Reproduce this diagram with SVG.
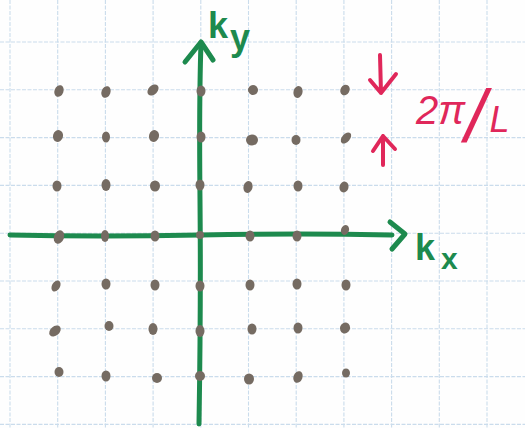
<svg xmlns="http://www.w3.org/2000/svg" width="525" height="428" viewBox="0 0 525 428">
<style>
.grid line{stroke:#cadcec;stroke-width:1.1;stroke-dasharray:4 1.5}
.dot{fill:#756b62}
.ax{stroke:#1d8a4e;stroke-width:5;fill:none;stroke-linecap:round;stroke-linejoin:round}
.red{stroke:#e0275a;stroke-width:4;fill:none;stroke-linecap:round;stroke-linejoin:round}
.gl{font-family:"Liberation Sans",Arial,sans-serif;font-weight:bold;fill:#1d8a4e}
.rl{font-family:"Liberation Sans",Arial,sans-serif;font-style:italic;fill:#e0275a}
</style>
<rect width="525" height="428" fill="#fefefe"/>
<g id="grid" class="grid">
<line x1="10" y1="0" x2="10" y2="428"/>
<line x1="57.7" y1="0" x2="57.7" y2="428"/>
<line x1="105.4" y1="0" x2="105.4" y2="428"/>
<line x1="153.1" y1="0" x2="153.1" y2="428"/>
<line x1="200.8" y1="0" x2="200.8" y2="428"/>
<line x1="248.5" y1="0" x2="248.5" y2="428"/>
<line x1="296.2" y1="0" x2="296.2" y2="428"/>
<line x1="343.9" y1="0" x2="343.9" y2="428"/>
<line x1="391.6" y1="0" x2="391.6" y2="428"/>
<line x1="439.3" y1="0" x2="439.3" y2="428"/>
<line x1="487" y1="0" x2="487" y2="428"/>
<line x1="0" y1="42" x2="525" y2="42"/>
<line x1="0" y1="89.8" x2="525" y2="89.8"/>
<line x1="0" y1="137.6" x2="525" y2="137.6"/>
<line x1="0" y1="185.4" x2="525" y2="185.4"/>
<line x1="0" y1="233.2" x2="525" y2="233.2"/>
<line x1="0" y1="281" x2="525" y2="281"/>
<line x1="0" y1="328.8" x2="525" y2="328.8"/>
<line x1="0" y1="376.6" x2="525" y2="376.6"/>
<line x1="0" y1="424.4" x2="525" y2="424.4"/>
</g>
<g id="connectors">
<path class="ax" d="M10,235 Q100,237 200,235 T392,235"/>
<path class="ax" d="M390,222 L405,234 L392,249"/>
<path class="ax" d="M199,424 Q201,300 200,200 T201,43"/>
<path class="ax" d="M185,62 L201,42 L213,60"/>
</g>
<g id="lattice" class="dot">
<ellipse cx="59" cy="91" rx="4.5" ry="6" transform="rotate(20 59 91)"/>
<ellipse cx="106" cy="92" rx="4.5" ry="6" transform="rotate(20 106 92)"/>
<ellipse cx="153" cy="90" rx="4.5" ry="6.5" transform="rotate(45 153 90)"/>
<ellipse cx="201" cy="91" rx="4.5" ry="5.5"/>
<ellipse cx="253" cy="90" rx="5" ry="5" transform="rotate(20 253 90)"/>
<ellipse cx="298" cy="92" rx="4.5" ry="6" transform="rotate(15 298 92)"/>
<ellipse cx="345" cy="90" rx="4.5" ry="5.5" transform="rotate(30 345 90)"/>
<ellipse cx="58" cy="136" rx="5" ry="6" transform="rotate(15 58 136)"/>
<ellipse cx="106" cy="137" rx="4" ry="5.5"/>
<ellipse cx="154" cy="136" rx="5" ry="6" transform="rotate(15 154 136)"/>
<ellipse cx="201" cy="137" rx="4.5" ry="5.5"/>
<ellipse cx="252" cy="140" rx="6" ry="5.5"/>
<ellipse cx="296" cy="140" rx="4.5" ry="5"/>
<ellipse cx="346" cy="138" rx="4" ry="6.5" transform="rotate(40 346 138)"/>
<ellipse cx="57" cy="186" rx="4.5" ry="5.5"/>
<ellipse cx="106" cy="185" rx="4.5" ry="6"/>
<ellipse cx="155" cy="186" rx="5" ry="5.5"/>
<ellipse cx="200" cy="185" rx="4.5" ry="5.5"/>
<ellipse cx="248" cy="187" rx="4.5" ry="6" transform="rotate(15 248 187)"/>
<ellipse cx="298" cy="186" rx="4.5" ry="5.5"/>
<ellipse cx="344" cy="187" rx="4.5" ry="5.5" transform="rotate(15 344 187)"/>
<ellipse cx="59" cy="237" rx="5" ry="7" transform="rotate(20 59 237)"/>
<ellipse cx="105" cy="236" rx="4" ry="6"/>
<ellipse cx="155" cy="236" rx="4.5" ry="5.5"/>
<ellipse cx="200" cy="235" rx="4" ry="4"/>
<ellipse cx="250" cy="236" rx="4.5" ry="5.5"/>
<ellipse cx="297" cy="236" rx="4.5" ry="5.5"/>
<ellipse cx="345" cy="230" rx="4" ry="5" transform="rotate(20 345 230)"/>
<ellipse cx="56" cy="286" rx="4" ry="6" transform="rotate(30 56 286)"/>
<ellipse cx="106" cy="284" rx="4.5" ry="5.5"/>
<ellipse cx="155" cy="285" rx="4.5" ry="5.5"/>
<ellipse cx="200" cy="286" rx="4.5" ry="5.5"/>
<ellipse cx="250" cy="285" rx="4.5" ry="5.5"/>
<ellipse cx="297" cy="284" rx="4.5" ry="5.5"/>
<ellipse cx="346" cy="285" rx="4.5" ry="5.5"/>
<ellipse cx="55" cy="331" rx="4.5" ry="6.5" transform="rotate(50 55 331)"/>
<ellipse cx="109" cy="326" rx="4.5" ry="5"/>
<ellipse cx="153" cy="329" rx="4.5" ry="6"/>
<ellipse cx="200" cy="331" rx="4.5" ry="6"/>
<ellipse cx="252" cy="329" rx="4.5" ry="5.5"/>
<ellipse cx="298" cy="328" rx="4.5" ry="5.5"/>
<ellipse cx="345" cy="328" rx="5" ry="5.5" transform="rotate(20 345 328)"/>
<ellipse cx="59" cy="372" rx="4.5" ry="5"/>
<ellipse cx="106" cy="376" rx="4.5" ry="5.5"/>
<ellipse cx="157" cy="378" rx="5" ry="5"/>
<ellipse cx="200" cy="376" rx="5" ry="5"/>
<ellipse cx="249" cy="379" rx="5" ry="5.5"/>
<ellipse cx="298" cy="377" rx="4.5" ry="6" transform="rotate(20 298 377)"/>
<ellipse cx="346" cy="373" rx="4" ry="4.5"/>
</g>
<g id="label-ky">
<text class="gl" x="208" y="38" font-size="36">k<tspan dy="12" dx="2">y</tspan></text>
</g>
<g id="label-kx">
<text class="gl" x="415" y="260" font-size="36">k<tspan dy="9" dx="6" font-size="30">x</tspan></text>
</g>
<g id="spacing">
<text class="rl" x="416" y="124" font-size="40">2π<tspan font-size="74" dx="0" dy="18">/</tspan><tspan font-size="36" dx="4" dy="-10">L</tspan></text>
<path class="red" d="M380,55 L381,93 M370,80 L381,93 L396,74"/>
<path class="red" d="M383,165 L383,136 M373,151 L383,136 L395,149"/>
</g>
</svg>
